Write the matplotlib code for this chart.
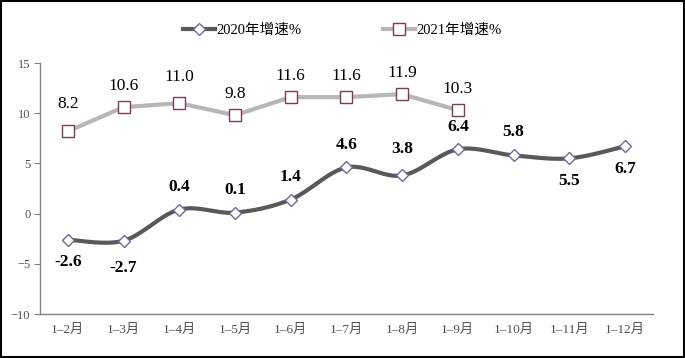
import matplotlib

matplotlib.use("Agg")

import matplotlib.pyplot as plt
import numpy as np
from matplotlib.lines import Line2D

MONTHS = ["1–2月", "1–3月", "1–4月", "1–5月", "1–6月", "1–7月",
          "1–8月", "1–9月", "1–10月", "1–11月", "1–12月"]
GROWTH_2020 = [-2.6, -2.7, 0.4, 0.1, 1.4, 4.6, 3.8, 6.4, 5.8, 5.5, 6.7]
GROWTH_2021 = [8.2, 10.6, 11.0, 9.8, 11.6, 11.6, 11.9, 10.3]
LABEL_BELOW_2020 = [True, True, False, False, False, False, False, False, False, True, True]

FONTS = ["Liberation Serif", "Noto Sans CJK SC"]
plt.rcParams["font.family"] = FONTS
plt.rcParams["axes.unicode_minus"] = True


def smooth_curve(x, y, steps=20):
    # Catmull-Rom style smoothing, only for drawing the curve
    x = np.asarray(x, float)
    y = np.asarray(y, float)
    px = np.concatenate([[x[0]], x, [x[-1]]])
    py = np.concatenate([[y[0]], y, [y[-1]]])
    out_x, out_y = [], []
    t = np.linspace(0, 1, steps)
    for i in range(1, len(px) - 2):
        p0, p1, p2, p3 = (np.array([px[j], py[j]]) for j in range(i - 1, i + 3))
        c1 = p1 + (p2 - p0) / 6
        c2 = p2 - (p3 - p1) / 6
        pts = ((1 - t) ** 3)[:, None] * p1 + (3 * (1 - t) ** 2 * t)[:, None] * c1 \
            + (3 * (1 - t) * t ** 2)[:, None] * c2 + (t ** 3)[:, None] * p2
        out_x.extend(pts[:, 0])
        out_y.extend(pts[:, 1])
    return np.array(out_x), np.array(out_y)


fig = plt.figure(figsize=(6.85, 3.58), dpi=100)
ax = fig.add_axes([0.0584, 0.1229, 0.8946, 0.7011])

x20 = np.arange(len(GROWTH_2020))
x21 = np.arange(len(GROWTH_2021))

sx, sy = smooth_curve(x20, GROWTH_2020)
ax.plot(sx, sy, color="#595959", linewidth=3, zorder=2)
ax.plot(x20, GROWTH_2020, linestyle="none", marker="D", markersize=6,
        markerfacecolor="white", markeredgecolor="#6a6a9c", markeredgewidth=1, zorder=3)

ax.plot(x21, GROWTH_2021, color="#b7b7b7", linewidth=3, zorder=2)
ax.plot(x21, GROWTH_2021, linestyle="none", marker="s", markersize=9,
        markerfacecolor="white", markeredgecolor="#7b3a5e", markeredgewidth=1, zorder=3)

offsets_2020 = [-16, -20, 16, 16, 16, 16, 19, 16, 17, -16, -16]
for xi, value, off in zip(x20, GROWTH_2020, offsets_2020):
    ax.annotate(f"{value:.1f}", (xi, value), xytext=(0, off), textcoords="offset points",
                ha="center", va="center", fontsize=12.5, fontweight="bold", color="black")

offsets_2021 = [20, 15, 19, 15, 15, 15, 15, 15]
for xi, value, off in zip(x21, GROWTH_2021, offsets_2021):
    ax.annotate(f"{value:.1f}", (xi, value), xytext=(0, off), textcoords="offset points",
                ha="center", va="center", fontsize=12.5, color="black")

ax.set_xlim(-0.5, len(MONTHS) - 0.5)
ax.set_ylim(-10, 15)
ax.set_yticks([-10, -5, 0, 5, 10, 15])
ax.set_yticklabels(["−10", "−5", "0", "5", "10", "15"])
ax.set_xticks(x20)
ax.set_xticklabels(MONTHS)
ax.tick_params(axis="y", direction="out", length=4, color="#808080", labelsize=9,
               labelcolor="#505050", pad=3)
ax.tick_params(axis="x", length=0, labelsize=9.5, labelcolor="#505050", pad=7)

for side in ["top", "right"]:
    ax.spines[side].set_visible(False)
for side in ["left", "bottom"]:
    ax.spines[side].set_color("#808080")
    ax.spines[side].set_linewidth(1)

handles = [
    Line2D([], [], color="#595959", linewidth=3, marker="D", markersize=6,
           markerfacecolor="white", markeredgecolor="#6a6a9c"),
    Line2D([], [], color="#b7b7b7", linewidth=3, marker="s", markersize=8,
           markerfacecolor="white", markeredgecolor="#7b3a5e"),
]
fig.legend(handles, ["2020年增速%", "2021年增速%"], loc="center", bbox_to_anchor=(0.5, 0.915),
           ncol=2, frameon=False, fontsize=10.5, handlelength=2.2, columnspacing=5.6,
           handletextpad=0.1)

fig.add_artist(plt.Rectangle((0.0015, 0.002), 0.997, 0.996, transform=fig.transFigure,
                             fill=False, edgecolor="black", linewidth=1.5))

fig.savefig("out.png", dpi=100)
